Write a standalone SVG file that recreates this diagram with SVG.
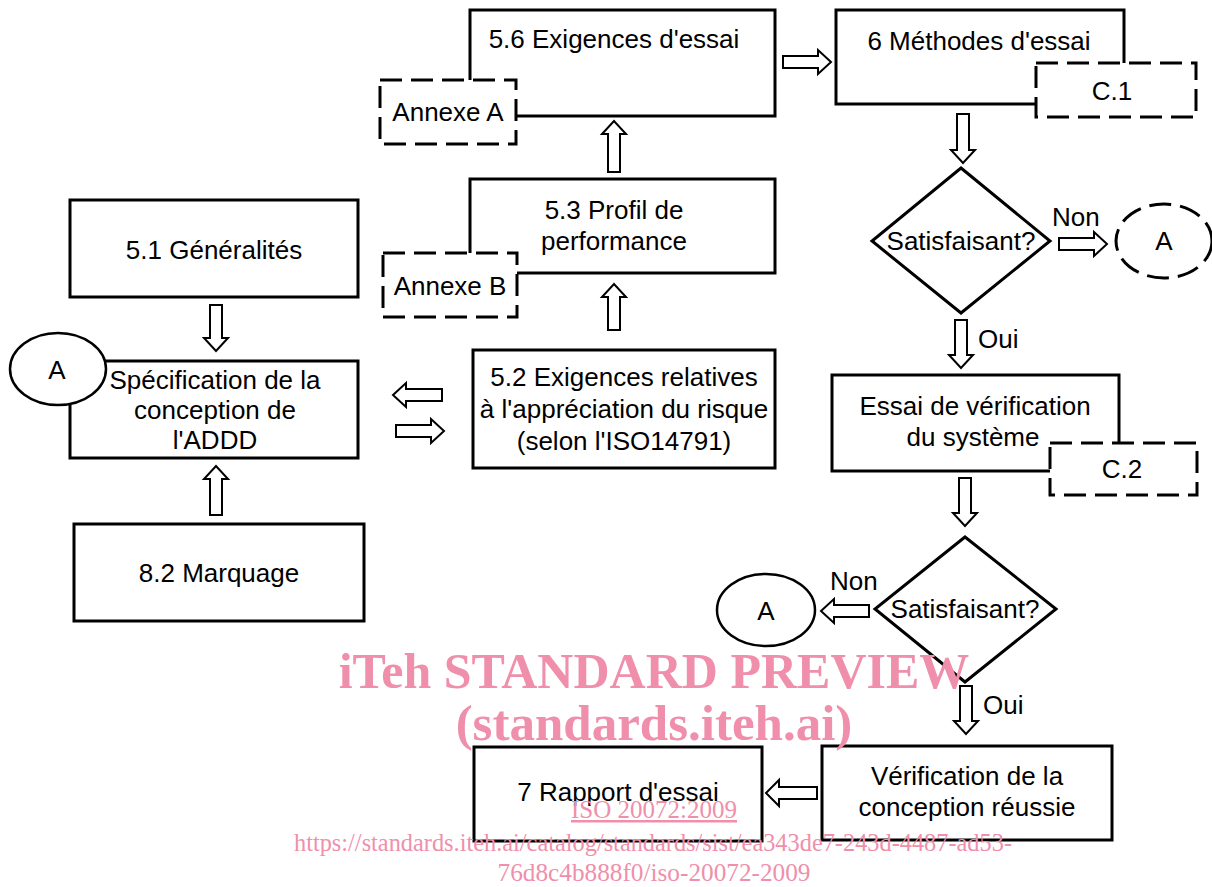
<svg xmlns="http://www.w3.org/2000/svg" width="1212" height="887" viewBox="0 0 1212 887">
<style>
.box{fill:#fff;stroke:#000;stroke-width:3}
.dash{fill:#fff;stroke:#000;stroke-width:3;stroke-dasharray:22 9}
.arr{fill:#fff;stroke:#000;stroke-width:2;stroke-linejoin:miter}
.t{font-family:"Liberation Sans",Arial,sans-serif;font-size:26px;fill:#000}
.m{text-anchor:middle}
.wm{font-family:"Liberation Serif","Times New Roman",serif;fill:#ef8fab;text-anchor:middle}
</style>
<rect width="1212" height="887" fill="#fff"/>
<g id="connectors">
<polygon class="arr" points="783,56 818,56 818,50 831,62 818,74 818,68 783,68"/>
<polygon class="arr" points="608,172 620,172 620,134 626,134 614,121 602,134 608,134"/>
<polygon class="arr" points="608,330 620,330 620,297 626,297 614,284 602,297 608,297"/>
<polygon class="arr" points="442,389 406,389 406,383 393,395 406,407 406,401 442,401"/>
<polygon class="arr" points="396,425 431,425 431,419 444,431 431,443 431,437 396,437"/>
<polygon class="arr" points="210,305 222,305 222,338 228,338 216,351 204,338 210,338"/>
<polygon class="arr" points="210,515 222,515 222,479 228,479 216,466 204,479 210,479"/>
<polygon class="arr" points="957,114 969,114 969,150 975,150 963,163 951,150 957,150"/>
<polygon class="arr" points="1059,238 1094,238 1094,232 1107,244 1094,256 1094,250 1059,250"/>
<polygon class="arr" points="955,320 967,320 967,355 973,355 961,368 949,355 955,355"/>
<polygon class="arr" points="959,478 971,478 971,513 977,513 965,526 953,513 959,513"/>
<polygon class="arr" points="869,605 834,605 834,599 821,611 834,623 834,617 869,617"/>
<polygon class="arr" points="960,686 972,686 972,721 978,721 966,734 954,721 960,721"/>
<polygon class="arr" points="817,787 779,787 779,780 766,793 779,806 779,799 817,799"/>
<text class="t" x="1052" y="226">Non</text>
<text class="t" x="978" y="348">Oui</text>
<text class="t" x="830" y="590">Non</text>
<text class="t" x="983" y="714">Oui</text>
</g>
<g id="n56">
<rect class="box" x="470" y="10" width="305" height="106"/>
<text class="t m" x="614" y="48">5.6 Exigences d'essai</text>
</g>
<g id="annexeA">
<rect class="dash" x="380" y="80" width="136" height="64"/>
<text class="t m" x="448" y="121">Annexe A</text>
</g>
<g id="n6">
<rect class="box" x="836" y="10" width="288" height="94"/>
<text class="t m" x="979" y="50">6 Méthodes d'essai</text>
</g>
<g id="c1">
<rect class="dash" x="1036" y="63" width="160" height="54"/>
<text class="t m" x="1112" y="100">C.1</text>
</g>
<g id="n53">
<rect class="box" x="470" y="179" width="305" height="94"/>
<text class="t m" x="614" y="219">5.3 Profil de</text>
<text class="t m" x="614" y="250">performance</text>
</g>
<g id="annexeB">
<rect class="dash" x="383" y="253" width="134" height="64"/>
<text class="t m" x="450" y="295">Annexe B</text>
</g>
<g id="n51">
<rect class="box" x="70" y="200" width="288" height="97"/>
<text class="t m" x="214" y="259">5.1 Généralités</text>
</g>
<g id="spec">
<rect class="box" x="70" y="361" width="288" height="97"/>
<text class="t m" x="215" y="389">Spécification de la</text>
<text class="t m" x="215" y="419">conception de</text>
<text class="t m" x="215" y="449">l'ADDD</text>
</g>
<g id="a1">
<ellipse cx="58" cy="369" rx="48" ry="36" fill="#fff" stroke="#000" stroke-width="2.5"/>
<text class="t m" x="57" y="379">A</text>
</g>
<g id="n52">
<rect class="box" x="473" y="350" width="302" height="118"/>
<text class="t m" x="624" y="386">5.2 Exigences relatives</text>
<text class="t m" x="624" y="418">à l'appréciation du risque</text>
<text class="t m" x="624" y="450">(selon l'ISO14791)</text>
</g>
<g id="n82">
<rect class="box" x="74" y="524" width="290" height="97"/>
<text class="t m" x="219" y="582">8.2 Marquage</text>
</g>
<g id="d1">
<polygon class="box" points="961,168 1050,241 961,313 872,241"/>
<text class="t m" x="961" y="250">Satisfaisant?</text>
</g>
<g id="a2">
<ellipse class="dash" cx="1164" cy="241" rx="48" ry="37" stroke-width="2.5" stroke-dasharray="20 9"/>
<text class="t m" x="1164" y="250">A</text>
</g>
<g id="essai">
<rect class="box" x="832" y="375" width="287" height="96"/>
<text class="t m" x="975" y="415">Essai de vérification</text>
<text class="t m" x="973" y="446">du système</text>
</g>
<g id="c2">
<rect class="dash" x="1050" y="443" width="147" height="52"/>
<text class="t m" x="1122" y="478">C.2</text>
</g>
<g id="d2">
<polygon class="box" points="965,537 1056,609 965,682 875,609"/>
<text class="t m" x="965" y="618">Satisfaisant?</text>
</g>
<g id="a3">
<ellipse cx="766" cy="610" rx="49" ry="36" fill="#fff" stroke="#000" stroke-width="2.5"/>
<text class="t m" x="766" y="620">A</text>
</g>
<g id="verif">
<rect class="box" x="822" y="746" width="290" height="94"/>
<text class="t m" x="967" y="785">Vérification de la</text>
<text class="t m" x="967" y="816">conception réussie</text>
</g>
<g id="rapport">
<rect class="box" x="474" y="747" width="288" height="94"/>
<text class="t m" x="618" y="801">7 Rapport d'essai</text>
</g>
<g id="watermark">
<text class="wm" x="654" y="688" font-size="50" font-weight="bold">iTeh STANDARD PREVIEW</text>
<text class="wm" x="654" y="740" font-size="51" font-weight="bold">(standards.iteh.ai)</text>
<text class="wm" x="654" y="818" font-size="25" text-decoration="underline">ISO 20072:2009</text>
<text class="wm" x="653" y="851" font-size="26" textLength="718" lengthAdjust="spacingAndGlyphs">https://standards.iteh.ai/catalog/standards/sist/ea343de7-243d-4487-ad53-</text>
<text class="wm" x="654" y="881" font-size="26" textLength="313" lengthAdjust="spacingAndGlyphs">76d8c4b888f0/iso-20072-2009</text>
</g>
</svg>
